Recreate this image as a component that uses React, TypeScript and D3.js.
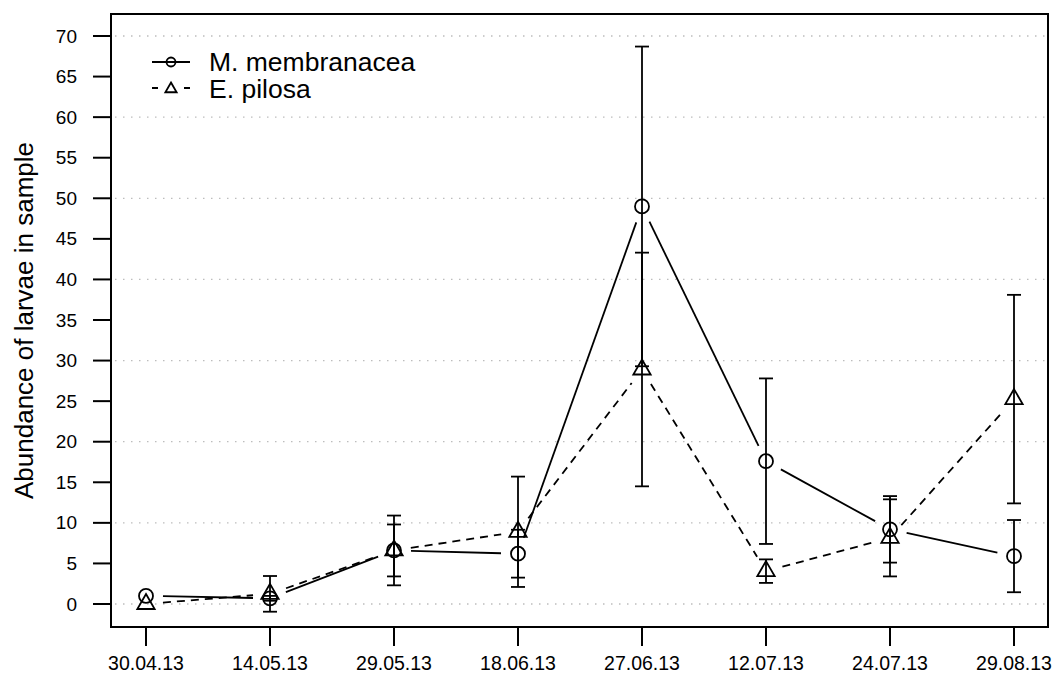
import React from "react";
import * as d3 from "d3";

// Sampling dates
const dates = ["30.04.13", "14.05.13", "29.05.13", "18.06.13", "27.06.13", "12.07.13", "24.07.13", "29.08.13"];

// Mean abundance and standard deviation per sample
const membranaceaMean = [1.0, 0.7, 6.6, 6.2, 49.0, 17.6, 9.2, 5.9];
const membranaceaSd = [0, 0.3, 4.3, 2.95, 19.7, 10.2, 4.1, 4.45];
const pilosaMean = [0.0, 1.25, 6.6, 8.9, 28.9, 4.05, 8.15, 25.25];
const pilosaSd = [0, 2.2, 3.2, 6.8, 14.4, 1.45, 4.75, 12.85];

const yTicks = d3.range(0, 71, 5);
const gridValues = d3.range(0, 71, 10);

const W = 1057;
const H = 695;
const box = { left: 111, right: 1048, top: 14, bottom: 627 };
const FONT = "'Liberation Sans', Arial, Helvetica, sans-serif";

const x = d3.scalePoint<string>().domain(dates).range([146, 1014]);
const y = d3.scaleLinear().domain([0, 70]).range([604, 36]);

const GAP = 17; // gap between line segments and symbols (type = "b")
const CIRCLE_R = 7;
const TRI_R = 10;
const CAP = 7;

function trianglePath(cx: number, cy: number, r: number) {
  const hw = r * 0.866;
  return `M${cx},${cy - r}L${cx + hw},${cy + r / 2}L${cx - hw},${cy + r / 2}Z`;
}

function gappedSegments(values: number[]) {
  const segs: { x1: number; y1: number; x2: number; y2: number }[] = [];
  for (let i = 0; i < values.length - 1; i++) {
    const ax = x(dates[i])!;
    const ay = y(values[i]);
    const bx = x(dates[i + 1])!;
    const by = y(values[i + 1]);
    const len = Math.hypot(bx - ax, by - ay);
    if (len <= 2 * GAP) continue;
    const ux = (bx - ax) / len;
    const uy = (by - ay) / len;
    segs.push({ x1: ax + ux * GAP, y1: ay + uy * GAP, x2: bx - ux * GAP, y2: by - uy * GAP });
  }
  return segs;
}

function ErrorBars({ mean, sd }: { mean: number[]; sd: number[] }) {
  return (
    <g stroke="#000" strokeWidth={1.8} fill="none">
      {mean.map((m, i) => {
        if (sd[i] <= 0) return null;
        const cx = x(dates[i])!;
        const top = y(m + sd[i]);
        const bot = y(m - sd[i]);
        return (
          <g key={i}>
            <line x1={cx} x2={cx} y1={top} y2={bot} />
            <line x1={cx - CAP} x2={cx + CAP} y1={top} y2={top} />
            <line x1={cx - CAP} x2={cx + CAP} y1={bot} y2={bot} />
          </g>
        );
      })}
    </g>
  );
}

export default function App() {
  const memSegs = gappedSegments(membranaceaMean);
  const pilSegs = gappedSegments(pilosaMean);
  return (
    <svg width={W} height={H} style={{ position: "absolute", left: 0, top: 0, background: "#fff" }} fontFamily={FONT}>
      <rect x={0} y={0} width={W} height={H} fill="#fff" />
      {/* horizontal dotted grid */}
      <g stroke="#bdbdbd" strokeWidth={1.3} strokeDasharray="1.5,6.5">
        {gridValues.map((v) => (
          <line key={v} x1={box.left + 4} x2={box.right} y1={y(v)} y2={y(v)} />
        ))}
      </g>

      {/* series lines */}
      <g stroke="#000" strokeWidth={1.8}>
        {memSegs.map((s, i) => (
          <line key={i} {...s} />
        ))}
      </g>
      <g stroke="#000" strokeWidth={1.8} strokeDasharray="8,6">
        {pilSegs.map((s, i) => (
          <line key={i} {...s} />
        ))}
      </g>

      <ErrorBars mean={membranaceaMean} sd={membranaceaSd} />
      <ErrorBars mean={pilosaMean} sd={pilosaSd} />

      {/* symbols */}
      <g stroke="#000" strokeWidth={1.8} fill="none">
        {membranaceaMean.map((m, i) => (
          <circle key={i} cx={x(dates[i])!} cy={y(m)} r={CIRCLE_R} />
        ))}
        {pilosaMean.map((m, i) => (
          <path key={i} d={trianglePath(x(dates[i])!, y(m), TRI_R)} />
        ))}
      </g>

      {/* frame */}
      <rect x={box.left} y={box.top} width={box.right - box.left} height={box.bottom - box.top} fill="none" stroke="#000" strokeWidth={2} />

      {/* y axis */}
      <g>
        {yTicks.map((t) => (
          <g key={t}>
            <line x1={93} x2={box.left} y1={y(t)} y2={y(t)} stroke="#000" strokeWidth={2} />
            <text x={77} y={y(t)} textAnchor="end" dominantBaseline="central" fontSize={19} fill="#000">
              {t}
            </text>
          </g>
        ))}
      </g>
      <text
        transform={`translate(33,${(box.top + box.bottom) / 2}) rotate(-90)`}
        textAnchor="middle"
        fontSize={26}
        fill="#000"
      >
        Abundance of larvae in sample
      </text>

      {/* x axis */}
      <g>
        {dates.map((d) => (
          <g key={d}>
            <line x1={x(d)!} x2={x(d)!} y1={box.bottom} y2={646} stroke="#000" strokeWidth={2} />
            <text x={x(d)!} y={670} textAnchor="middle" fontSize={19.5} fill="#000">
              {d}
            </text>
          </g>
        ))}
      </g>

      {/* legend */}
      <g stroke="#000" strokeWidth={1.8} fill="none">
        <line x1={152} x2={190} y1={62} y2={62} />
        <circle cx={171} cy={62} r={4.5} />
        <line x1={152} x2={190} y1={88} y2={88} strokeDasharray="6,26" />
        <path d={trianglePath(171, 89, 6.5)} />
      </g>
      <g fontSize={26.5} fill="#000">
        <text x={209} y={71}>M. membranacea</text>
        <text x={209} y={98}>E. pilosa</text>
      </g>
    </svg>
  );
}
